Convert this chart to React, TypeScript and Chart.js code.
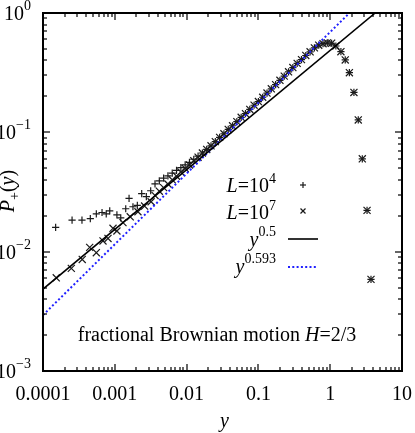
import React, { useEffect, useRef } from 'react';
import { Chart, registerables } from 'chart.js';

Chart.register(...registerables);

// ---------------- data ----------------
// L = 10^4 ('+'), sparse small-y part
const l4SmallY = [1.5e-4, 2.54e-4, 3.49e-4, 4.56e-4, 5.53e-4, 6.64e-4, 7.6e-4, 8.5e-4, 1.07e-3, 1.21e-3, 1.42e-3, 1.58e-3, 1.79e-3, 2.06e-3, 2.37e-3, 2.75e-3, 3.16e-3];
const l4SmallP = [0.016, 0.0184, 0.0184, 0.0189, 0.0207, 0.0213, 0.0207, 0.022, 0.0203, 0.0192, 0.0229, 0.028, 0.0238, 0.0244, 0.0306, 0.0289, 0.0324];

// L = 10^7 ('x'), sparse small-y part
const l7SmallY = [1.53e-4, 2.48e-4, 3.52e-4, 4.47e-4, 5.53e-4, 6.85e-4, 8.04e-4, 9.44e-4, 1.07e-3, 1.3e-3, 1.64e-3, 2.1e-3, 2.6e-3, 3.2e-3];
const l7SmallP = [0.00604, 0.00724, 0.0086, 0.01087, 0.0098, 0.0123, 0.0129, 0.0157, 0.0149, 0.0175, 0.0196, 0.0216, 0.0241, 0.0262];

// dense part (both system sizes share the y bins)
const denseY = [0.003631, 0.004169, 0.004786, 0.005495, 0.00631, 0.007244, 0.008318, 0.00955, 0.01096, 0.01259,
  0.01445, 0.0166, 0.01905, 0.02188, 0.02512, 0.02884, 0.03311, 0.03802, 0.04365, 0.05012,
  0.05754, 0.06607, 0.07586, 0.0871, 0.1, 0.1148, 0.1318, 0.1514, 0.1738, 0.1995,
  0.2291, 0.263, 0.302, 0.3467, 0.3981, 0.4571, 0.5248, 0.6026, 0.6918, 0.7943,
  0.912, 1.047, 1.2, 1.41, 1.62, 1.85, 2.14, 2.46, 2.8, 3.26, 3.7];
const l7DenseP = [0.0296, 0.0321, 0.0344, 0.0369, 0.04, 0.0429, 0.0465, 0.0498, 0.0533, 0.0578,
  0.0619, 0.0671, 0.0719, 0.0771, 0.0836, 0.0908, 0.0973, 0.1057, 0.1135, 0.123,
  0.1337, 0.1432, 0.1556, 0.1687, 0.1811, 0.1968, 0.2133, 0.2317, 0.2512, 0.2729,
  0.2958, 0.3214, 0.3491, 0.3784, 0.4064, 0.4406, 0.4732, 0.5105, 0.537, 0.553,
  0.562, 0.558, 0.529, 0.474, 0.404, 0.316, 0.216, 0.127, 0.06, 0.0222, 0.00586];
const l4DenseP = [0.037, 0.0392, 0.0413, 0.0432, 0.0456, 0.048, 0.0507, 0.0533, 0.056, 0.0595,
  0.0631, 0.0671, 0.0719, 0.0771, 0.0836, 0.0908, 0.0973, 0.1057, 0.1135, 0.123,
  0.1337, 0.1432, 0.1556, 0.1687, 0.1811, 0.1968, 0.2133, 0.2317, 0.2512, 0.2729,
  0.2958, 0.3214, 0.3491, 0.3784, 0.4064, 0.4406, 0.4732, 0.5105, 0.537, 0.553,
  0.562, 0.558, 0.529, 0.474, 0.404, 0.316, 0.216, 0.127, 0.06, 0.0222, 0.00586];

// power-law guide lines (end points)
const fit05Y = [1e-4, 4.23];
const fit05P = [0.00486, 1];
const fit0593Y = [1e-4, 1.855];
const fit0593P = [0.00294, 1];

// ticks
const xTickValues = [0.0001, 0.001, 0.01, 0.1, 1, 10];
const xTickLabels = ['0.0001', '0.001', '0.01', '0.1', '1', '10'];
const yTickValues = [0.001, 0.01, 0.1, 1];
const yTickExponents = ['\u22123', '\u22122', '\u22121', '0'];

// ---------------- drawing helpers ----------------
const SERIF = "'Liberation Serif', 'Times New Roman', Times, serif";
const fnt = (style: string, size: number) => `${style} ${size}px ${SERIF}`;
const NORMAL = fnt('normal', 20);
const ITALIC = fnt('italic', 20);
const SUP = fnt('normal', 14);

type Seg = { t: string; f: string; dy?: number };

function drawRich(ctx: CanvasRenderingContext2D, segs: Seg[], x: number, y: number, align: 'left' | 'right' | 'center') {
  let total = 0;
  for (const s of segs) {
    ctx.font = s.f;
    total += ctx.measureText(s.t).width;
  }
  let cx = align === 'right' ? x - total : align === 'center' ? x - total / 2 : x;
  ctx.textAlign = 'left';
  ctx.textBaseline = 'alphabetic';
  for (const s of segs) {
    ctx.font = s.f;
    ctx.fillText(s.t, cx, y + (s.dy || 0));
    cx += ctx.measureText(s.t).width;
  }
}

function seg(ctx: CanvasRenderingContext2D, x1: number, y1: number, x2: number, y2: number) {
  ctx.beginPath();
  ctx.moveTo(x1, y1);
  ctx.lineTo(x2, y2);
  ctx.stroke();
}

const decorPlugin = {
  id: 'decor',
  afterDraw(chart: any) {
    const { ctx, chartArea: a, scales } = chart;
    const xs = scales.x;
    const ys = scales.y;
    ctx.save();
    ctx.strokeStyle = '#000';
    ctx.fillStyle = '#000';

    // minor + major ticks, inward on all four sides
    ctx.lineWidth = 1.2;
    for (let d = -4; d <= 0; d++) {
      for (let m = 1; m <= 9; m++) {
        const v = m * Math.pow(10, d);
        const px = Math.round(xs.getPixelForValue(v));
        const len = m === 1 ? 7 : 4;
        seg(ctx, px, a.bottom, px, a.bottom - len);
        seg(ctx, px, a.top, px, a.top + len);
      }
    }
    for (let d = -3; d <= -1; d++) {
      for (let m = 1; m <= 9; m++) {
        const v = m * Math.pow(10, d);
        const py = Math.round(ys.getPixelForValue(v));
        const len = m === 1 ? 7 : 4;
        seg(ctx, a.left, py, a.left + len, py);
        seg(ctx, a.right, py, a.right - len, py);
      }
    }

    // frame
    ctx.lineWidth = 2;
    ctx.strokeRect(a.left, a.top, a.right - a.left, a.bottom - a.top);

    // x tick labels
    xTickValues.forEach((v, i) => {
      const px = xs.getPixelForValue(v);
      drawRich(ctx, [{ t: xTickLabels[i], f: NORMAL }], px, a.bottom + 29, 'center');
    });
    // y tick labels 10^n
    yTickValues.forEach((v, i) => {
      const py = ys.getPixelForValue(v);
      drawRich(ctx, [{ t: '10', f: NORMAL }, { t: yTickExponents[i], f: SUP, dy: -10 }], a.left - 12, py + 7, 'right');
    });

    // axis titles
    drawRich(ctx, [{ t: 'y', f: ITALIC }], (a.left + a.right) / 2 + 2, a.bottom + 56, 'center');
    ctx.save();
    ctx.translate(14, 191);
    ctx.rotate(-Math.PI / 2);
    drawRich(ctx, [
      { t: 'P', f: ITALIC },
      { t: '+', f: SUP, dy: 5 },
      { t: '(', f: NORMAL },
      { t: 'y', f: ITALIC },
      { t: ')', f: NORMAL },
    ], 0, 0, 'center');
    ctx.restore();

    // annotation
    drawRich(ctx, [
      { t: 'fractional Brownian motion ', f: NORMAL },
      { t: 'H', f: ITALIC },
      { t: '=2/3', f: NORMAL },
    ], 217, 341, 'center');

    // legend
    const lx = 276;
    drawRich(ctx, [{ t: 'L', f: ITALIC }, { t: '=10', f: NORMAL }, { t: '4', f: SUP, dy: -9 }], lx, 192, 'right');
    drawRich(ctx, [{ t: 'L', f: ITALIC }, { t: '=10', f: NORMAL }, { t: '7', f: SUP, dy: -9 }], lx, 219, 'right');
    drawRich(ctx, [{ t: 'y', f: ITALIC }, { t: '0.5', f: SUP, dy: -10 }], lx, 246, 'right');
    drawRich(ctx, [{ t: 'y', f: ITALIC }, { t: '0.593', f: SUP, dy: -10 }], lx, 273, 'right');

    // legend samples
    ctx.strokeStyle = '#1a1a1a';
    ctx.lineWidth = 1.2;
    const sx = 303;
    seg(ctx, sx - 3, 185, sx + 3, 185);
    seg(ctx, sx, 182, sx, 188);
    seg(ctx, sx - 2.5, 208.5, sx + 2.5, 213.5);
    seg(ctx, sx - 2.5, 213.5, sx + 2.5, 208.5);
    ctx.strokeStyle = '#000';
    ctx.lineWidth = 1.6;
    seg(ctx, 288, 239, 318, 239);
    ctx.strokeStyle = '#2020ff';
    ctx.lineWidth = 2;
    ctx.setLineDash([2, 2.3]);
    seg(ctx, 288, 267, 318, 267);
    ctx.setLineDash([]);

    ctx.restore();
  },
};

export default function App() {
  const ref = useRef<HTMLCanvasElement | null>(null);

  useEffect(() => {
    if (!ref.current) return;
    const l4Y = [...l4SmallY, ...denseY];
    const l4P = [...l4SmallP, ...l4DenseP];
    const l7Y = [...l7SmallY, ...denseY];
    const l7P = [...l7SmallP, ...l7DenseP];
    const chart = new Chart(ref.current, {
      type: 'scatter',
      data: {
        datasets: [
          {
            label: 'y^0.5',
            data: fit05Y.map((x, i) => ({ x, y: fit05P[i] })),
            showLine: true,
            borderColor: '#000',
            borderWidth: 1.6,
            pointRadius: 0,
            fill: false,
          },
          {
            label: 'y^0.593',
            data: fit0593Y.map((x, i) => ({ x, y: fit0593P[i] })),
            showLine: true,
            borderColor: '#2020ff',
            borderWidth: 2,
            borderDash: [2, 2.3],
            pointRadius: 0,
            fill: false,
          },
          {
            label: 'L=10^4',
            data: l4Y.map((x, i) => ({ x, y: l4P[i] })),
            pointStyle: 'cross',
            pointRadius: 3.6,
            borderColor: '#1a1a1a',
            backgroundColor: 'transparent',
            borderWidth: 1.2,
            showLine: false,
          },
          {
            label: 'L=10^7',
            data: l7Y.map((x, i) => ({ x, y: l7P[i] })),
            pointStyle: 'crossRot',
            pointRadius: 5,
            borderColor: '#1a1a1a',
            backgroundColor: 'transparent',
            borderWidth: 1.2,
            showLine: false,
          },
        ],
      },
      options: {
        animation: false,
        responsive: false,
        devicePixelRatio: 1,
        layout: { padding: { left: 43, top: 13, right: 13, bottom: 62 } },
        scales: {
          x: { type: 'logarithmic', min: 0.0001, max: 10, display: false },
          y: { type: 'logarithmic', min: 0.001, max: 1, display: false },
        },
        plugins: {
          legend: { display: false },
          tooltip: { enabled: false },
        },
        events: [],
      },
      plugins: [decorPlugin],
    });
    return () => chart.destroy();
  }, []);

  return (
    <div style={{ position: 'absolute', left: 0, top: 0, width: 415, height: 433, background: '#fff' }}>
      <canvas ref={ref} width={415} height={433} style={{ width: 415, height: 433, display: 'block' }} />
    </div>
  );
}
